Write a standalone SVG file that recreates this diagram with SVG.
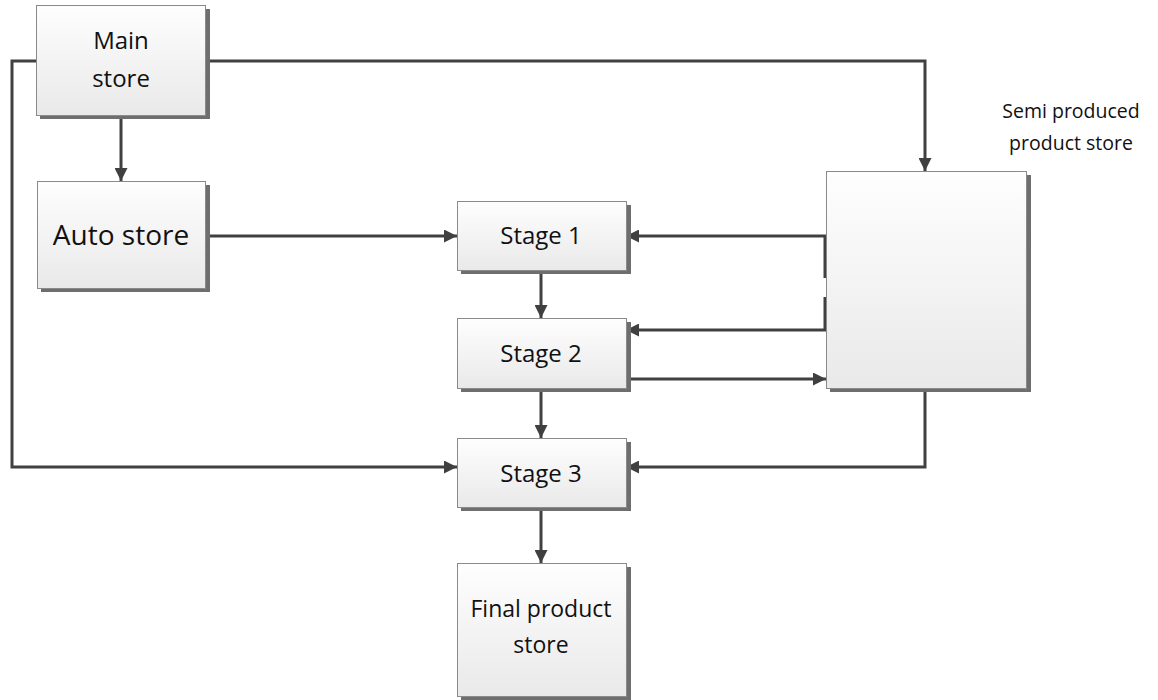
<svg xmlns="http://www.w3.org/2000/svg" width="1158" height="700" viewBox="0 0 1158 700">
<style>
.box{fill:url(#g);stroke:#8a8a8a;stroke-width:1}
.sh{fill:#6e6e6e}
.t{font-family:"Open Sans","DejaVu Sans",sans-serif;fill:#111;text-anchor:middle}
.c{fill:none;stroke:#404040;stroke-width:3}
</style>
<defs>
<linearGradient id="g" x1="0" y1="0" x2="0" y2="1">
<stop offset="0" stop-color="#fefefe"/>
<stop offset="1" stop-color="#e9e9e9"/>
</linearGradient>
<marker id="a" viewBox="0 0 13 13" refX="13" refY="6.5" markerWidth="13" markerHeight="13" markerUnits="userSpaceOnUse" orient="auto">
<path d="M0,0 L13,6.5 L0,13 z" fill="#404040"/>
</marker>
</defs>
<rect width="1158" height="700" fill="#fff"/>
<g id="connectors">
<path class="c" d="M205,61 H925 V171" marker-end="url(#a)"/>
<path class="c" d="M36,61 H12 V467 H457" marker-end="url(#a)"/>
<path class="c" d="M121,116 V181" marker-end="url(#a)"/>
<path class="c" d="M205,236 H457" marker-end="url(#a)"/>
<path class="c" d="M541,270 V318" marker-end="url(#a)"/>
<path class="c" d="M541,388 V438" marker-end="url(#a)"/>
<path class="c" d="M541,507 V563" marker-end="url(#a)"/>
<path class="c" d="M825,278 V236 H626" marker-end="url(#a)"/>
<path class="c" d="M825,297 V330 H626" marker-end="url(#a)"/>
<path class="c" d="M626,379 H826" marker-end="url(#a)"/>
<path class="c" d="M925,388 V467 H626" marker-end="url(#a)"/>
</g>
<g id="main-store">
<rect class="sh" x="40" y="9" width="170" height="110"/>
<rect class="box" x="36.5" y="5.5" width="169" height="110"/>
<text class="t" x="121" y="49" font-size="24">Main</text>
<text class="t" x="121" y="87" font-size="24">store</text>
</g>
<g id="auto-store">
<rect class="sh" x="41" y="185" width="169" height="107"/>
<rect class="box" x="37.5" y="181.5" width="168" height="107"/>
<text class="t" x="121" y="245" font-size="28">Auto store</text>
</g>
<g id="stage-1">
<rect class="sh" x="461" y="205" width="170" height="69"/>
<rect class="box" x="457.5" y="201.5" width="169" height="69"/>
<text class="t" x="541" y="244" font-size="24">Stage 1</text>
</g>
<g id="stage-2">
<rect class="sh" x="461" y="322" width="170" height="70"/>
<rect class="box" x="457.5" y="318.5" width="169" height="70"/>
<text class="t" x="541" y="362" font-size="24">Stage 2</text>
</g>
<g id="stage-3">
<rect class="sh" x="461" y="442" width="170" height="69"/>
<rect class="box" x="457.5" y="438.5" width="169" height="69"/>
<text class="t" x="541" y="482" font-size="24">Stage 3</text>
</g>
<g id="final-product-store">
<rect class="sh" x="461" y="567" width="170" height="133"/>
<rect class="box" x="457.5" y="563.5" width="169" height="133"/>
<text class="t" x="541" y="617" font-size="23">Final product</text>
<text class="t" x="541" y="653" font-size="23">store</text>
</g>
<g id="semi-produced-product-store">
<rect class="sh" x="830" y="175" width="201" height="217"/>
<rect class="box" x="826.5" y="171.5" width="200" height="217"/>
<text class="t" x="1071" y="118" font-size="19.5">Semi produced</text>
<text class="t" x="1071" y="150" font-size="19.5">product store</text>
</g>
</svg>
